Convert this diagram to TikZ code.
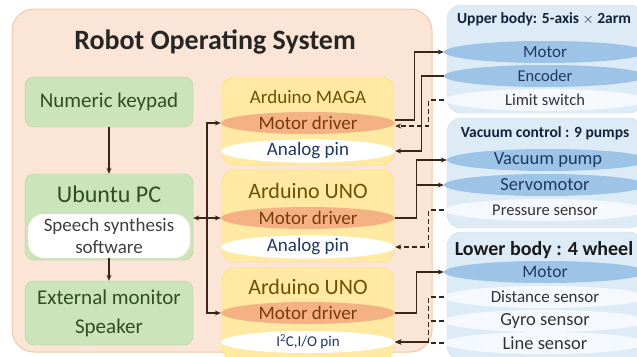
\documentclass[tikz,border=0pt]{standalone}
\usepackage{fontspec}
\setmainfont{Carlito}
\usetikzlibrary{arrows.meta,shapes.geometric}

\definecolor{rosfill}{HTML}{FBE5D6}
\definecolor{rosline}{HTML}{F4C7A8}
\definecolor{greenfill}{HTML}{CBE4BA}
\definecolor{greenline}{HTML}{AFD496}
\definecolor{greentext}{HTML}{2F4F1E}
\definecolor{yelfill}{HTML}{FFE9A3}
\definecolor{yelline}{HTML}{FFDB6E}
\definecolor{yeltext}{HTML}{6B5200}
\definecolor{orafill}{HTML}{F4B183}
\definecolor{oratext}{HTML}{7A3A10}
\definecolor{bluefill}{HTML}{DDEBF7}
\definecolor{blueline}{HTML}{C5DCF0}
\definecolor{bluebar}{HTML}{9DC3E6}
\definecolor{bluetext}{HTML}{1F3864}
\definecolor{wirecol}{HTML}{3A2517}

\newcommand{\fs}[1]{\fontsize{#1}{#1}\selectfont}

\begin{document}
\begin{tikzpicture}[x=1pt, y=-1pt,
    wire/.style={draw=wirecol, line width=1.1pt, -{Stealth[length=6pt,width=5pt]}},
    dash wire/.style={wire, dash pattern=on 5pt off 3pt},
    greenbox/.style={draw=greenline, fill=greenfill, rounded corners=9pt,
        minimum width=168pt, align=center, text=greentext},
    yelbox/.style={draw=yelline, fill=yelfill, rounded corners=12pt,
        minimum width=172pt},
    bluebox/.style={draw=blueline, fill=bluefill, rounded corners=14pt,
        minimum width=196pt},
    orabar/.style={ellipse, fill=orafill, minimum width=174pt, minimum height=22pt,
        inner sep=0pt, text=oratext, font=\fs{19}},
    whitebar/.style={ellipse, fill=white, minimum width=174pt, minimum height=22pt,
        inner sep=0pt, text=bluetext, font=\fs{19}},
    bluebar/.style={ellipse, fill=bluebar, minimum width=202pt, minimum height=22pt,
        inner sep=0pt, text=bluetext},
    pale/.style={ellipse, fill=white!70!bluefill, minimum width=202pt, minimum height=22pt,
        inner sep=0pt, text=black!80},
]

\useasboundingbox (0,0) rectangle (637,356);

% Robot Operating System frame
\draw[draw=rosline, fill=rosfill, rounded corners=22pt, line width=1pt] (12,9) rectangle (432,352);
\node[font=\fs{28}\bfseries, text=black!85] (ros) at (215,42) {Robot Operating System};

% Left column
\node[greenbox, minimum height=50pt, font=\fs{21}] (keypad) at (109,102) {Numeric keypad};
\node[greenbox, minimum height=86pt] (pc) at (109,217) {};
\node[text=greentext, font=\fs{24}] (pcname) at (109,194) {Ubuntu PC};
\node[fill=white, rounded corners=16pt, minimum width=162pt, minimum height=44pt, align=center,
    text=black!75, font=\fontsize{19}{22}\selectfont] (speech) at (109,236) {Speech synthesis\\software};
\node[greenbox, minimum height=64pt, font=\fontsize{21}{29}\selectfont] (monitor) at (109,313) {External monitor\\Speaker};

% Arduino boards
\node[yelbox, minimum height=88pt] (maga) at (308,121) {};
\node[yelbox, minimum height=92pt] (unoA) at (308,216) {};
\node[yelbox, minimum height=92pt] (unoB) at (308,314) {};
\node[text=yeltext, font=\fs{19}] (maganame) at (308,97) {Arduino MAGA};
\node[text=yeltext, font=\fs{22}] (unoAname) at (308,191) {Arduino UNO};
\node[text=yeltext, font=\fs{22}] (unoBname) at (308,287) {Arduino UNO};
\node[orabar] (drvA) at (308,123) {Motor driver};
\node[orabar] (drvB) at (308,218) {Motor driver};
\node[orabar] (drvC) at (308,313) {Motor driver};
\node[whitebar] (anaA) at (308,151) {Analog pin};
\node[whitebar] (anaB) at (308,247) {Analog pin};
\node[whitebar, font=\fs{15}] (iopin) at (308,342) {I\textsuperscript{2}C,I/O pin};

% Robot parts
\node[bluebox, minimum height=108pt] (upper) at (545,59) {};
\node[bluebox, minimum height=110pt] (vacuum) at (545,173) {};
\node[bluebox, minimum height=128pt] (lower) at (545,296) {};
\node[text=bluetext!60!black, font=\fs{15.5}\bfseries] (uppername) at (544,19) {Upper body: 5-axis $\times$ 2arm};
\node[text=bluetext!60!black, font=\fs{15.5}\bfseries] (vacname) at (545,133) {Vacuum control : 9 pumps};
\node[text=black!90, font=\fs{20}\bfseries] (lowername) at (544,250) {Lower body : 4 wheel};
\node[bluebar, font=\fs{17}] (motU) at (545,52) {Motor};
\node[bluebar, font=\fs{16.5}] (enc) at (545,76) {Encoder};
\node[pale, font=\fs{16.5}] (limit) at (545,100) {Limit switch};
\node[bluebar, font=\fs{18.5}] (pump) at (548,160) {Vacuum pump};
\node[bluebar, font=\fs{18.5}] (servo) at (545,185) {Servomotor};
\node[pale, font=\fs{16.5}] (press) at (545,210) {Pressure sensor};
\node[bluebar, font=\fs{17.5}] (motL) at (545,272) {Motor};
\node[pale, font=\fs{17}] (dist) at (545,297) {Distance sensor};
\node[pale, font=\fs{18.5}] (gyro) at (545,321) {Gyro sensor};
\node[pale, font=\fs{18.5}] (line) at (545,343) {Line sensor};

% PC side
\draw[wire] (keypad) -- (pc);
\draw[wire] (speech) -- (monitor);
\coordinate (bus) at (207,218);
\draw[wire, {Stealth[length=6pt,width=5pt]}-{Stealth[length=6pt,width=5pt]}] (pc.east |- drvB.west) -- (drvB.west);
\draw[wire] (bus) |- (drvA.west);
\draw[wire] (bus) |- (drvC.west);

% Board to robot
\draw[wire] ([yshift=3pt]drvA.east) -| ++(19,0) |- (motU.west);
\draw[wire] (enc.west) -- ++(-22,0) |- (anaA.east);
\draw[dash wire] (limit.west) -- ++(-15,0) |- ([yshift=-3pt]drvA.east);
\draw[wire] (drvB.east) -- ++(21,0) |- (pump.west);
\draw[wire] (drvB.east) ++(21,0) |- (servo.west);
\draw[dash wire] (press.west) -- ++(-15,0) |- (anaB.east);
\draw[wire] (drvC.east) -- ++(21,0) |- (motL.west);
\foreach \s in {dist,gyro,line}
    \draw[dash wire] (\s.west) -- ++(-15,0) |- (iopin.east);

\end{tikzpicture}
\end{document}
